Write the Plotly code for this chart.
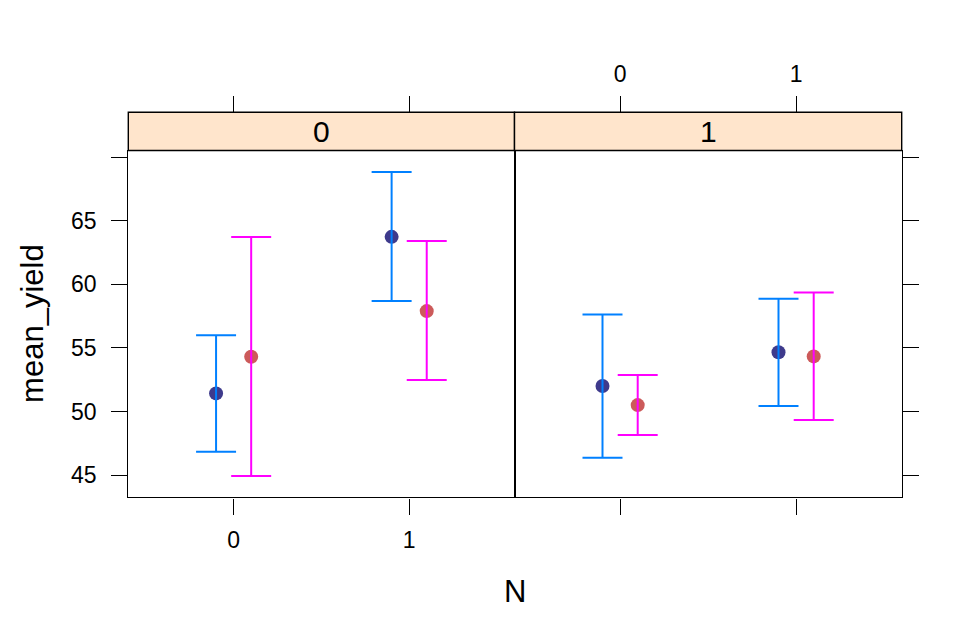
import plotly.graph_objects as go

# ---- data ----
N_levels = [0, 1]
panels = ["0", "1"]
group_names = ["0", "1"]
group_offsets = [-0.1, 0.1]

# panel "0"
p0_blue_mean = [51.42, 63.73]
p0_blue_lower = [46.83, 58.68]
p0_blue_upper = [56.00, 68.82]
p0_pink_mean = [54.30, 57.89]
p0_pink_lower = [44.92, 52.47]
p0_pink_upper = [63.72, 63.40]
# panel "1"
p1_blue_mean = [52.00, 54.65]
p1_blue_lower = [46.36, 50.42]
p1_blue_upper = [57.63, 58.86]
p1_pink_mean = [50.50, 54.33]
p1_pink_lower = [48.14, 49.32]
p1_pink_upper = [52.86, 59.36]

y_ticks = [45, 50, 55, 60, 65, 70]
y_ticklabels = ["45", "50", "55", "60", "65", ""]
x_ticks = [0, 1]
x_ticklabels = ["0", "1"]

# ---- styling ----
W, H = 979, 633
FONT = "Liberation Sans, Arial, Helvetica, sans-serif"
line_cols = ["#0080ff", "#ff00ff"]
dot_cols = ["#3e3a8c", "#cc5a5a"]
x_range = [-0.6, 1.6]
y_range = [43.25, 70.52]
px_left, px_mid, px_right = 128.3, 514.5, 901.7
px_top, px_bottom = 150.5, 497.3
strip_h = 38.2
TL = 16
LW = 1.4

fig = go.Figure()

data = [
    [(p0_blue_mean, p0_blue_lower, p0_blue_upper), (p0_pink_mean, p0_pink_lower, p0_pink_upper)],
    [(p1_blue_mean, p1_blue_lower, p1_blue_upper), (p1_pink_mean, p1_pink_lower, p1_pink_upper)],
]

for pi, pdata in enumerate(data):
    xa = "x" if pi == 0 else "x2"
    ya = "y" if pi == 0 else "y2"
    for gi, (m, lo, up) in enumerate(pdata):
        xs = [n + group_offsets[gi] for n in N_levels]
        # points first
        fig.add_trace(go.Scatter(
            x=xs, y=m, mode="markers", xaxis=xa, yaxis=ya,
            marker=dict(size=14, color=dot_cols[gi], line=dict(width=0)),
            showlegend=False, hoverinfo="skip"))
        # error bars on top
        fig.add_trace(go.Scatter(
            x=xs, y=m, mode="markers", xaxis=xa, yaxis=ya,
            marker=dict(size=1, color="rgba(0,0,0,0)"),
            error_y=dict(type="data", symmetric=False,
                         array=[u - c for u, c in zip(up, m)],
                         arrayminus=[c - l for c, l in zip(m, lo)],
                         color=line_cols[gi], thickness=2, width=20),
            showlegend=False, hoverinfo="skip"))

# dummy traces so overlay axes exist
fig.add_trace(go.Scatter(x=[None], y=[None], xaxis="x3", yaxis="y", showlegend=False, hoverinfo="skip"))
fig.add_trace(go.Scatter(x=[None], y=[None], xaxis="x4", yaxis="y2", showlegend=False, hoverinfo="skip"))
fig.add_trace(go.Scatter(x=[None], y=[None], xaxis="x2", yaxis="y3", showlegend=False, hoverinfo="skip"))

d1 = [px_left / W, px_mid / W]
d2 = [px_mid / W, px_right / W]
dy = [1 - px_bottom / H, 1 - px_top / H]
strip_pos = 1 - (px_top - strip_h) / H

tickfont = dict(family=FONT, size=23, color="black")
common_x = dict(range=x_range, tickvals=x_ticks, ticktext=x_ticklabels, ticks="outside",
                ticklen=TL, tickwidth=LW, tickcolor="black", showgrid=False, zeroline=False,
                tickfont=tickfont, fixedrange=True)
common_y = dict(range=y_range, tickvals=y_ticks, ticktext=y_ticklabels, ticks="outside",
                ticklen=TL, tickwidth=LW, tickcolor="black", showgrid=False, zeroline=False,
                tickfont=tickfont, fixedrange=True)

fig.update_layout(
    width=W, height=H,
    margin=dict(l=0, r=0, t=0, b=0),
    paper_bgcolor="white", plot_bgcolor="white",
    font=dict(family=FONT, color="black"),
    xaxis=dict(domain=d1, anchor="y", showline=True, linecolor="black", linewidth=LW, mirror=True,
               ticklabelstandoff=6, **common_x),
    xaxis2=dict(domain=d2, anchor="y2", showline=True, linecolor="black", linewidth=LW, mirror=True,
                showticklabels=False, **common_x),
    xaxis3=dict(overlaying="x", side="top", anchor="free", position=strip_pos, showline=False,
                showticklabels=False, **common_x),
    xaxis4=dict(overlaying="x2", side="top", anchor="free", position=strip_pos, showline=False,
                showticklabels=True, ticklabelstandoff=5, **common_x),
    yaxis=dict(domain=dy, anchor="x", showline=True, linecolor="black", linewidth=LW, mirror=True,
               ticklabelstandoff=10, **common_y),
    yaxis2=dict(domain=dy, anchor="x2", showline=True, linecolor="black", linewidth=LW, mirror=True,
                range=y_range, showticklabels=False, ticks="", showgrid=False, zeroline=False,
                fixedrange=True),
    yaxis3=dict(overlaying="y2", side="right", anchor="x2", showline=False, showticklabels=False,
                **common_y),
)

# strips
for xd, lab in [("x domain", panels[0]), ("x2 domain", panels[1])]:
    yd = "y domain"
    fig.add_shape(type="rect", xref=xd, yref=yd, x0=0, x1=1, y0=1, y1=1 + strip_h / (px_bottom - px_top),
                  fillcolor="#ffe5cc", line=dict(color="black", width=LW), layer="above")
    fig.add_annotation(xref=xd, yref=yd, x=0.5, y=1 + strip_h / 2 / (px_bottom - px_top), text=lab,
                       showarrow=False, font=dict(family=FONT, size=30, color="black"),
                       xanchor="center", yanchor="middle")

# axis titles
fig.add_annotation(xref="paper", yref="paper", x=(px_left + px_right) / 2 / W, y=1 - 591 / H, text="N",
                   showarrow=False, font=dict(family=FONT, size=31, color="black"),
                   xanchor="center", yanchor="middle")
fig.add_annotation(xref="paper", yref="paper", x=33 / W, y=1 - (px_top + px_bottom) / 2 / H,
                   text="mean_yield", textangle=-90,
                   showarrow=False, font=dict(family=FONT, size=31, color="black"),
                   xanchor="center", yanchor="middle")

fig.write_html("out.html")
